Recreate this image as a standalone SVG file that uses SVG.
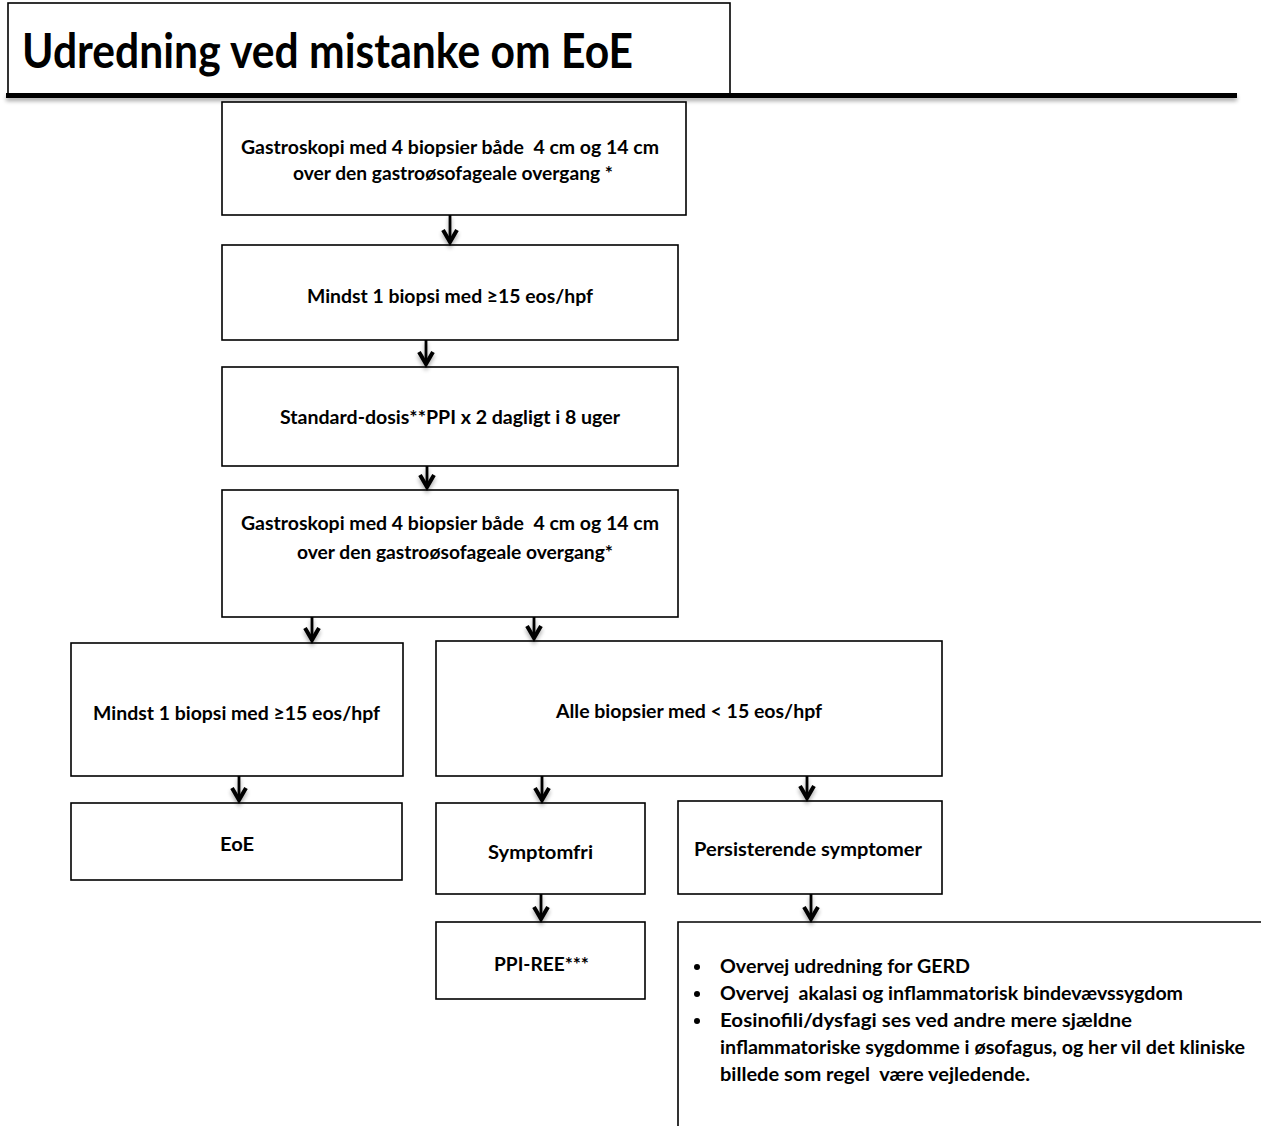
<svg xmlns="http://www.w3.org/2000/svg" width="1261" height="1126" viewBox="0 0 1261 1126">
<defs>
<filter id="sh" x="-20%" y="-50%" width="140%" height="300%">
<feGaussianBlur in="SourceAlpha" stdDeviation="2"/>
<feOffset dx="0" dy="3" result="b"/>
<feComponentTransfer><feFuncA type="linear" slope="0.35"/></feComponentTransfer>
<feMerge><feMergeNode/><feMergeNode in="SourceGraphic"/></feMerge>
</filter>
</defs>
<style>
.box{fill:#fff;stroke:#000;stroke-width:1.6}
.t{font-family:Lato,"Open Sans","Liberation Sans",sans-serif;font-weight:bold;font-size:19px;fill:#000;white-space:pre}
.ln{stroke:#000;stroke-width:2.8;fill:none}
.hd{stroke:#000;stroke-width:4;fill:none;stroke-linecap:butt;stroke-linejoin:miter}
</style>
<rect width="1261" height="1126" fill="#fff"/>

<g id="title">
<rect class="box" x="8" y="3" width="722" height="91"/>
<rect x="6" y="93" width="1231" height="5" fill="#000" filter="url(#sh)"/>
<text class="t" x="22" y="68" style="font-size:47px" textLength="611" lengthAdjust="spacingAndGlyphs">Udredning ved mistanke om EoE</text>
</g>

<g id="n1">
<rect class="box" x="222" y="102" width="464" height="113"/>
<text class="t" x="241" y="154" textLength="418" lengthAdjust="spacingAndGlyphs">Gastroskopi med 4 biopsier både  4 cm og 14 cm</text>
<text class="t" x="293" y="180" textLength="320" lengthAdjust="spacingAndGlyphs">over den gastroøsofageale overgang *</text>
</g>
<g id="n2">
<rect class="box" x="222" y="245" width="456" height="95"/>
<text class="t" x="307" y="303" textLength="286" lengthAdjust="spacingAndGlyphs">Mindst 1 biopsi med ≥15 eos/hpf</text>
</g>
<g id="n3">
<rect class="box" x="222" y="367" width="456" height="99"/>
<text class="t" x="280" y="424" textLength="340" lengthAdjust="spacingAndGlyphs">Standard-dosis**PPI x 2 dagligt i 8 uger</text>
</g>
<g id="n4">
<rect class="box" x="222" y="490" width="456" height="127"/>
<text class="t" x="241" y="530" textLength="418" lengthAdjust="spacingAndGlyphs">Gastroskopi med 4 biopsier både  4 cm og 14 cm</text>
<text class="t" x="297" y="559" textLength="316" lengthAdjust="spacingAndGlyphs">over den gastroøsofageale overgang*</text>
</g>
<g id="n5">
<rect class="box" x="71" y="643" width="332" height="133"/>
<text class="t" x="93" y="720" textLength="287" lengthAdjust="spacingAndGlyphs">Mindst 1 biopsi med ≥15 eos/hpf</text>
</g>
<g id="n6">
<rect class="box" x="436" y="641" width="506" height="135"/>
<text class="t" x="556" y="718" textLength="266" lengthAdjust="spacingAndGlyphs">Alle biopsier med &lt; 15 eos/hpf</text>
</g>
<g id="n7">
<rect class="box" x="71" y="803" width="331" height="77"/>
<text class="t" x="220" y="851" textLength="34" lengthAdjust="spacingAndGlyphs">EoE</text>
</g>
<g id="n8">
<rect class="box" x="436" y="803" width="209" height="91"/>
<text class="t" x="488" y="859" textLength="105" lengthAdjust="spacingAndGlyphs">Symptomfri</text>
</g>
<g id="n9">
<rect class="box" x="678" y="801" width="264" height="93"/>
<text class="t" x="694" y="856" textLength="228" lengthAdjust="spacingAndGlyphs">Persisterende symptomer</text>
</g>
<g id="n10">
<rect class="box" x="436" y="922" width="209" height="77"/>
<text class="t" x="494" y="971" textLength="95" lengthAdjust="spacingAndGlyphs">PPI-REE***</text>
</g>
<g id="n11">
<path class="box" d="M1261,922 H678 V1126" fill="none"/>
<circle cx="697" cy="967" r="3"/>
<circle cx="697" cy="994" r="3"/>
<circle cx="697" cy="1021" r="3"/>
<text class="t" x="720" y="973" textLength="250" lengthAdjust="spacingAndGlyphs">Overvej udredning for GERD</text>
<text class="t" x="720" y="1000" textLength="463" lengthAdjust="spacingAndGlyphs">Overvej  akalasi og inflammatorisk bindevævssygdom</text>
<text class="t" x="720" y="1027" textLength="412" lengthAdjust="spacingAndGlyphs">Eosinofili/dysfagi ses ved andre mere sjældne</text>
<text class="t" x="720" y="1054" textLength="525" lengthAdjust="spacingAndGlyphs">inflammatoriske sygdomme i øsofagus, og her vil det kliniske</text>
<text class="t" x="720" y="1081" textLength="310" lengthAdjust="spacingAndGlyphs">billede som regel  være vejledende.</text>
</g>

<g id="connectors" filter="url(#sh)">
<path class="ln" d="M450,215 V242"/><path class="hd" d="M443,230 L450,242 L457,230"/>
<path class="ln" d="M426,340 V364"/><path class="hd" d="M419,352 L426,364 L433,352"/>
<path class="ln" d="M427,466 V487"/><path class="hd" d="M420,475 L427,487 L434,475"/>
<path class="ln" d="M312,617 V640"/><path class="hd" d="M305,628 L312,640 L319,628"/>
<path class="ln" d="M534,617 V638"/><path class="hd" d="M527,626 L534,638 L541,626"/>
<path class="ln" d="M239,776 V800"/><path class="hd" d="M232,788 L239,800 L246,788"/>
<path class="ln" d="M542,776 V800"/><path class="hd" d="M535,788 L542,800 L549,788"/>
<path class="ln" d="M807,776 V798"/><path class="hd" d="M800,786 L807,798 L814,786"/>
<path class="ln" d="M541,894 V919"/><path class="hd" d="M534,907 L541,919 L548,907"/>
<path class="ln" d="M811,894 V919"/><path class="hd" d="M804,907 L811,919 L818,907"/>
</g>
</svg>
